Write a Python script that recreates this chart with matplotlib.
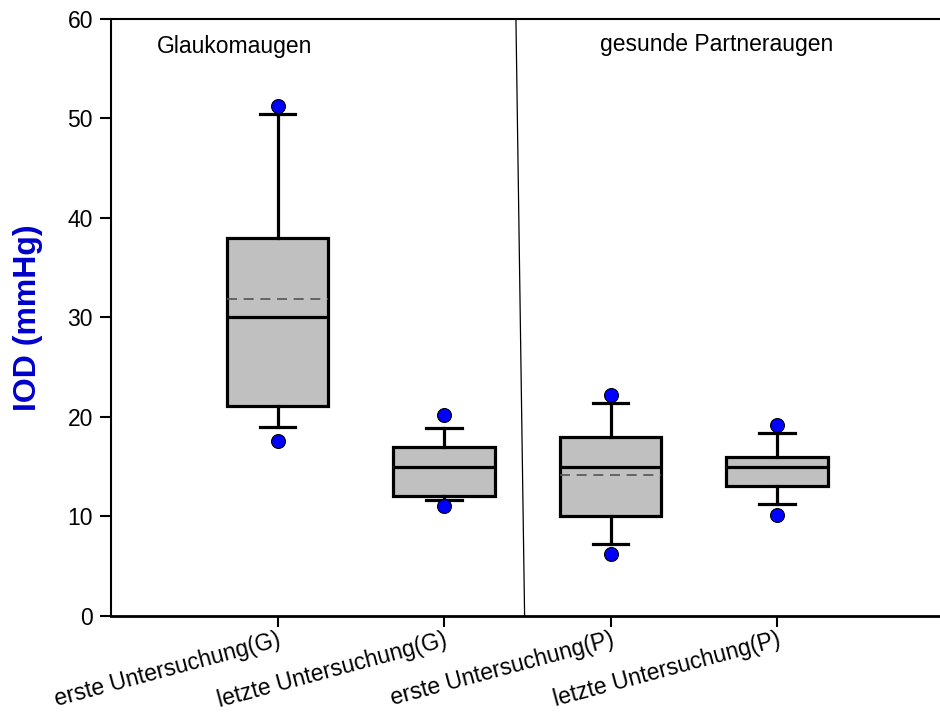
import matplotlib
matplotlib.use("Agg")
import matplotlib.pyplot as plt

plt.rcParams['font.family'] = ['Liberation Sans', 'DejaVu Sans']

# Group labels and box statistics (IOD in mmHg)
categories = ["erste Untersuchung(G)", "letzte Untersuchung(G)",
              "erste Untersuchung(P)", "letzte Untersuchung(P)"]
q1 = [21.1, 12.0, 10.0, 13.0]
median = [30.0, 15.0, 15.0, 15.0]
q3 = [38.0, 17.0, 18.0, 16.0]
mean = [31.8, 15.0, 14.15, 15.0]
whisker_low = [19.0, 11.6, 7.2, 11.2]
whisker_high = [50.4, 18.85, 21.4, 18.4]
outliers_low = [17.6, 11.0, 6.2, 10.1]
outliers_high = [51.2, 20.2, 22.2, 19.2]

group_titles = ["Glaukomaugen", "gesunde Partneraugen"]
yticks = [0, 10, 20, 30, 40, 50, 60]

fig = plt.figure(figsize=(9.4, 7.16), dpi=100)
ax = fig.add_axes([0.1181, 0.1401, 0.8819, 0.8334])

stats = []
for i, name in enumerate(categories):
    stats.append(dict(
        label=name, q1=q1[i], med=median[i], q3=q3[i], mean=mean[i],
        whislo=whisker_low[i], whishi=whisker_high[i],
        fliers=[outliers_low[i], outliers_high[i]],
    ))

positions = [1, 2, 3, 4]
parts = ax.bxp(
    stats, positions=positions, widths=0.607, patch_artist=True,
    showmeans=True, meanline=True, showfliers=True,
    boxprops=dict(facecolor="#c0c0c0", edgecolor="black", linewidth=2.3),
    medianprops=dict(color="black", linewidth=2.3),
    meanprops=dict(color="#555555", linestyle=(0, (6, 4)), linewidth=1.2),
    whiskerprops=dict(color="black", linewidth=2.3),
    capprops=dict(color="black", linewidth=2.3),
    capwidths=0.216,
    flierprops=dict(marker="o", markerfacecolor="#0000ff",
                    markeredgecolor="black", markersize=10,
                    markeredgewidth=0.8, linestyle="none"),
    zorder=3,
)

# Mean lines sit beneath the median lines
for ln in parts["means"]:
    ln.set_zorder(3.05)
for ln in parts["medians"]:
    ln.set_zorder(3.3)
for ln in parts["fliers"]:
    ln.set_zorder(3.4)

# Divider between the two eye groups
ax.plot([2.432, 2.484], [60, 0], color="black", linewidth=0.9, zorder=2)

ax.text(0.742, 57.2, group_titles[0], ha="center", va="center", fontsize=16.5)
ax.text(3.64, 57.4, group_titles[1], ha="center", va="center", fontsize=16.5)

ax.set_xlim(0, 4.979)
ax.set_ylim(0, 60)
ax.set_yticks(yticks)
ax.set_yticklabels([str(t) for t in yticks], fontsize=16.5)
ax.set_xticks(positions)
ax.set_xticklabels(categories, fontsize=16.5, rotation=15,
                   ha="right", va="top", rotation_mode="anchor")

ax.tick_params(axis="both", direction="out", length=8, width=1.5, pad=5)
ax.tick_params(axis="x", pad=1)
ax.spines["right"].set_visible(False)
ax.spines["top"].set_linewidth(1.5)
ax.spines["left"].set_linewidth(1.5)
ax.spines["bottom"].set_linewidth(2.0)

ax.set_ylabel("IOD (mmHg)", fontsize=23, fontweight="bold", color="#0000cc")
ax.yaxis.set_label_coords(-0.082, 0.5)

fig.savefig("out.png", dpi=100)
